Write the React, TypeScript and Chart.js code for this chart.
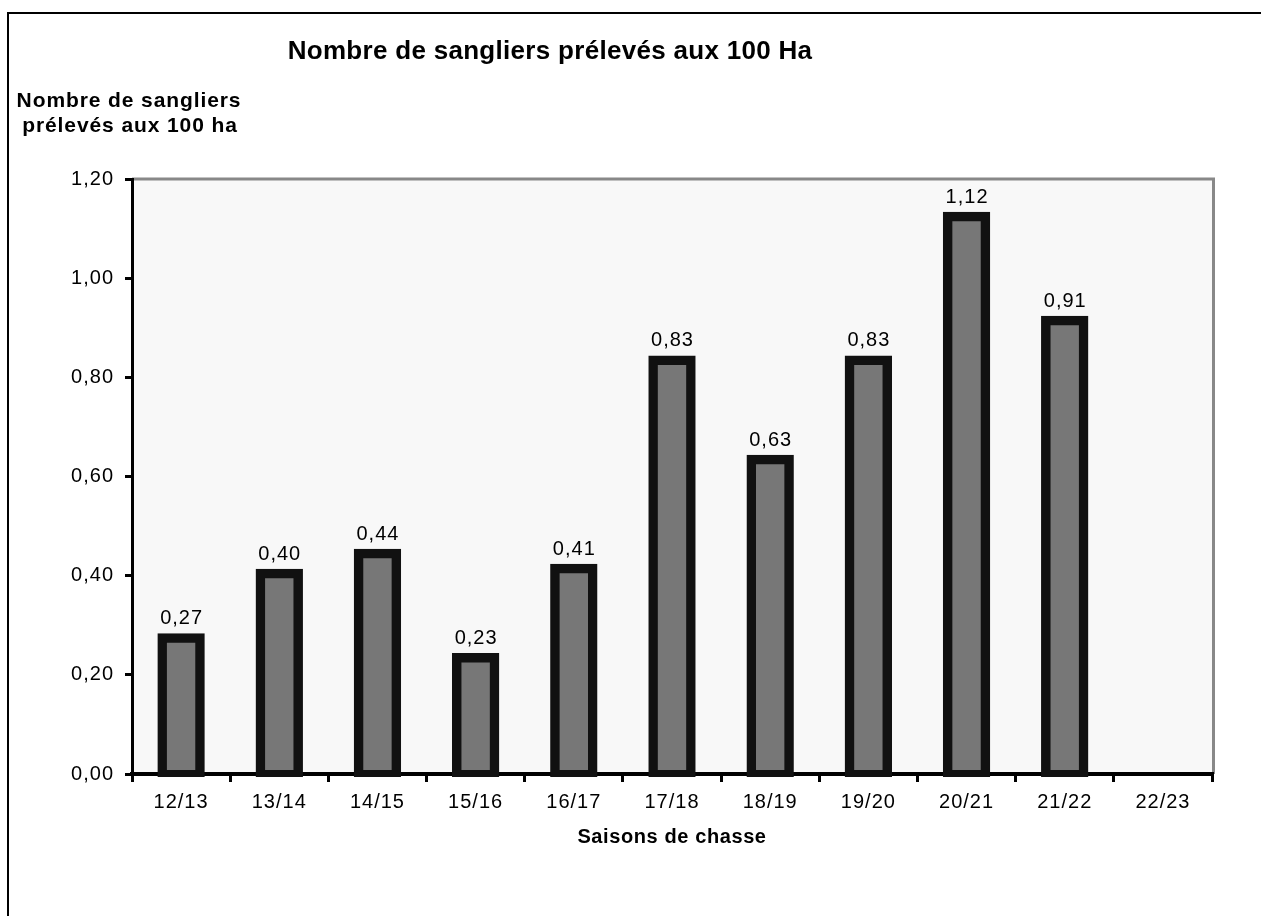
import React, { useEffect, useRef } from 'react';
import { Chart, registerables } from 'chart.js';

Chart.register(...registerables);

const CATEGORIES = ['12/13', '13/14', '14/15', '15/16', '16/17', '17/18', '18/19', '19/20', '20/21', '21/22', '22/23'];
const VALUES: (number | null)[] = [0.27, 0.40, 0.44, 0.23, 0.41, 0.83, 0.63, 0.83, 1.12, 0.91, null];
const Y_TICK_LABELS = ['0,00', '0,20', '0,40', '0,60', '0,80', '1,00', '1,20'];
const CHART_TITLE = 'Nombre de sangliers prélevés aux 100 Ha';
const Y_TITLE_LINES = ['Nombre de sangliers', 'prélevés aux 100 ha'];
const X_TITLE = 'Saisons de chasse';

const FONT = 'Liberation Sans, Arial, sans-serif';
const INFLATE = 7;

const decor = {
  id: 'decor',
  beforeDraw(chart: any) {
    const { ctx, chartArea: a } = chart;
    ctx.save();
    ctx.fillStyle = '#ffffff';
    ctx.fillRect(0, 0, chart.width, chart.height);
    ctx.fillStyle = '#f8f8f8';
    ctx.fillRect(a.left, a.top, a.right - a.left, a.bottom - a.top);
    ctx.strokeStyle = '#888888';
    ctx.lineWidth = 3;
    ctx.beginPath();
    ctx.moveTo(a.left, a.top);
    ctx.lineTo(a.right + 1.5, a.top);
    ctx.lineTo(a.right + 1.5, a.bottom);
    ctx.stroke();
    ctx.strokeStyle = '#000000';
    ctx.lineWidth = 2;
    ctx.strokeRect(8, 13, chart.width + 40, chart.height + 40);
    ctx.restore();
    (ctx as any).letterSpacing = '1px';
  },
  afterDraw(chart: any) {
    const { ctx, chartArea: a } = chart;
    ctx.save();
    ctx.fillStyle = '#000000';
    ctx.textAlign = 'center';
    ctx.textBaseline = 'alphabetic';
    (ctx as any).letterSpacing = '0.3px';
    ctx.font = `bold 26px ${FONT}`;
    ctx.fillText(CHART_TITLE, 550, 59);
    (ctx as any).letterSpacing = '0.9px';
    ctx.font = `bold 21px ${FONT}`;
    ctx.fillText(Y_TITLE_LINES[0], 129, 107);
    ctx.fillText(Y_TITLE_LINES[1], 130, 132);
    (ctx as any).letterSpacing = '0.6px';
    ctx.font = `bold 20px ${FONT}`;
    ctx.fillText(X_TITLE, (a.left + a.right) / 2, 843);
    (ctx as any).letterSpacing = '1px';
    ctx.font = `20px ${FONT}`;
    const meta = chart.getDatasetMeta(0);
    meta.data.forEach((el: any, i: number) => {
      const v = VALUES[i];
      if (v === null || v === undefined) return;
      ctx.fillText(v.toFixed(2).replace('.', ','), el.x + 0.5, el.y - INFLATE - 9);
    });
    ctx.restore();
  },
};

export default function App() {
  const ref = useRef<HTMLCanvasElement>(null);
  useEffect(() => {
    document.body.style.margin = '0';
    const tickFont = { family: FONT, size: 20 };
    const chart = new Chart(ref.current as HTMLCanvasElement, {
      type: 'bar',
      data: {
        labels: CATEGORIES,
        datasets: [
          {
            data: VALUES,
            backgroundColor: '#777777',
            borderColor: '#111111',
            borderWidth: 9.5,
            borderSkipped: false,
            inflateAmount: INFLATE,
            barPercentage: 0.34,
            categoryPercentage: 1,
            clip: { left: false, top: false, right: false, bottom: 3 },
          } as any,
        ],
      },
      options: {
        responsive: false,
        animation: false,
        layout: { padding: { left: 0, top: 179, right: 49, bottom: 0 } },
        plugins: {
          legend: { display: false },
          title: { display: false },
          tooltip: { enabled: false },
        },
        scales: {
          x: {
            grid: {
              offset: true,
              drawOnChartArea: false,
              drawTicks: true,
              tickLength: 8,
              color: '#000000',
              lineWidth: 3,
            },
            border: { display: true, color: '#000000', width: 4 },
            ticks: { color: '#000000', font: tickFont, padding: 8, maxRotation: 0, autoSkip: false },
            afterFit(s: any) {
              s.height = 142;
            },
          },
          y: {
            min: 0,
            max: 1.2,
            ticks: {
              stepSize: 0.2,
              color: '#000000',
              font: tickFont,
              padding: 11,
              callback: (_v: any, i: number) => Y_TICK_LABELS[i],
            },
            grid: { drawOnChartArea: false, tickLength: 7, color: '#000000', lineWidth: 3 },
            border: { display: true, color: '#000000', width: 3 },
            afterFit(s: any) {
              s.width = 132;
            },
          },
        },
      } as any,
      plugins: [decor],
    });
    return () => chart.destroy();
  }, []);
  return <canvas ref={ref} width={1261} height={916} style={{ display: 'block' }} />;
}
